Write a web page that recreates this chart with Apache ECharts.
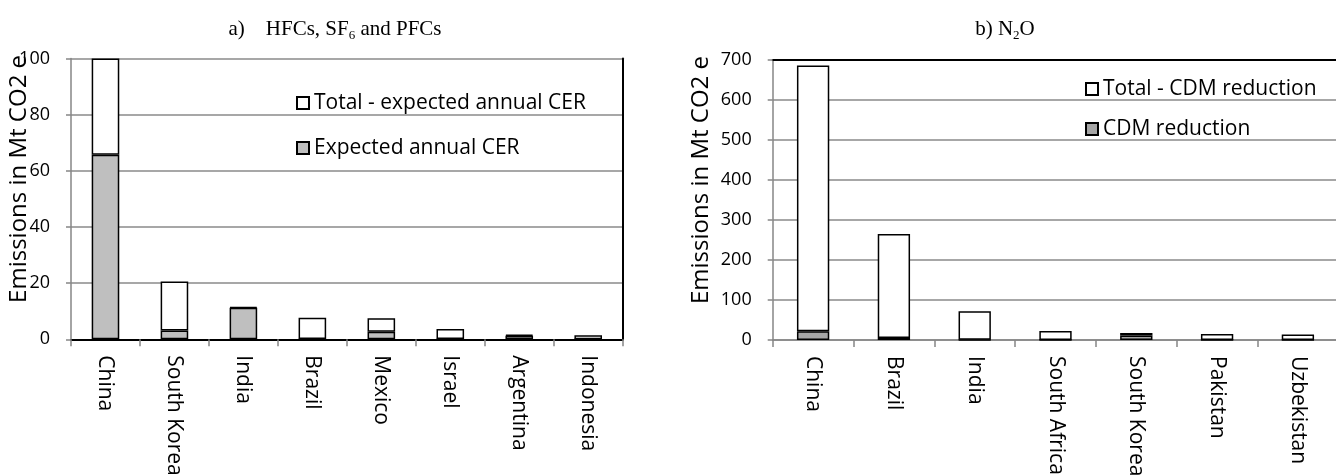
<!DOCTYPE html>
<html>
<head>
<meta charset="utf-8">
<script src="https://cdn.jsdelivr.net/npm/echarts@6/dist/echarts.min.js"></script>
<style>html,body{margin:0;padding:0;background:#fff}#c{width:1336px;height:475px}</style>
</head>
<body>
<div id="c"></div>
<script>
// ---- data ----
const leftCategories = ['China','South Korea','India','Brazil','Mexico','Israel','Argentina','Indonesia'];
const leftExpectedCER = [65.7, 3.1, 11.2, 0.1, 2.7, 0.1, 1.3, 0];
const leftTotalMinusCER = [34.3, 17.5, 0.3, 7.6, 4.8, 3.6, 0.3, 1.4];
const leftTicks = {min: 0, max: 100, interval: 20};

const rightCategories = ['China','Brazil','India','South Africa','South Korea','Pakistan','Uzbekistan'];
const rightCDM = [22, 5, 0.5, 0, 11, 0, 0];
const rightTotalMinusCDM = [664, 260, 71.5, 22.5, 6.5, 15, 13.5];
const rightTicks = {min: 0, max: 700, interval: 100};

const leftNames = ['Total - expected annual CER', 'Expected annual CER'];
const rightNames = ['Total - CDM reduction', 'CDM reduction'];

const FONT = 'Open Sans';
const GRIDC = '#8a8a8a';
const AXC = '#868686';

const chart = echarts.init(document.getElementById('c'), null, {renderer: 'canvas'});

function catAxis(idx, cats) {
  return {
    type: 'category', gridIndex: idx, data: cats,
    axisLine: {show: true, lineStyle: {color: AXC, width: 1.5}},
    axisTick: {show: true, length: 7, lineStyle: {color: AXC, width: 1.5}},
    axisLabel: {rotate: -90, margin: 16, color: '#000', fontFamily: FONT, fontSize: 21, interval: 0}
  };
}
function topAxis(idx, cats) {
  return {
    type: 'category', gridIndex: idx, data: cats, position: 'top',
    axisLine: {show: true, lineStyle: {color: '#000', width: 2}},
    axisTick: {show: false}, axisLabel: {show: false}
  };
}
function valAxis(idx, t, gap) {
  return {
    type: 'value', gridIndex: idx, min: t.min, max: t.max, interval: t.interval,
    name: 'Emissions in Mt CO2 e', nameLocation: 'middle', nameGap: gap, nameMoveOverlap: false,
    nameTextStyle: {fontFamily: FONT, fontSize: 24, color: '#000', padding: [0, 0, 0, 40]},
    axisLine: {show: true, lineStyle: {color: AXC, width: 1.5}},
    axisTick: {show: true, length: 5, lineStyle: {color: AXC, width: 1.5}},
    axisLabel: {margin: 21, color: '#000', fontFamily: FONT, fontSize: 18},
    splitLine: {show: true, lineStyle: {color: GRIDC, width: 1.5}}
  };
}
function rightBorder(idx, t) {
  return {
    type: 'value', gridIndex: idx, min: t.min, max: t.max, interval: t.interval, position: 'right',
    axisLine: {show: true, lineStyle: {color: '#000', width: 2}},
    axisTick: {show: false}, axisLabel: {show: false}, splitLine: {show: false}
  };
}

const barBorder = {borderColor: '#000', borderWidth: 1.5};
const subStyle = {fontFamily: 'Liberation Serif', fontSize: 13, lineHeight: 14, verticalAlign: 'bottom', color: '#000'};

chart.setOption({
  animation: false,
  backgroundColor: '#fff',
  title: [
    {text: 'a)    HFCs, SF{sub|6} and PFCs', left: 330, top: 11, textAlign: 'center',
     textStyle: {fontFamily: 'Liberation Serif', fontSize: 21, fontWeight: 'normal', color: '#000', lineHeight: 26,
       rich: {sub: subStyle}}},
    {text: 'b) N{sub|2}O', left: 1000, top: 11, textAlign: 'center',
     textStyle: {fontFamily: 'Liberation Serif', fontSize: 21, fontWeight: 'normal', color: '#000', lineHeight: 26,
       rich: {sub: subStyle}}}
  ],
  legend: [
    {data: leftNames, orient: 'vertical', left: 296, top: 91, padding: 0, itemWidth: 12, itemHeight: 12, itemGap: 21,
     icon: 'rect', textStyle: {fontFamily: FONT, fontSize: 21, color: '#000', lineHeight: 24}},
    {data: rightNames, orient: 'vertical', left: 1085, top: 77, padding: 0, itemWidth: 12, itemHeight: 12, itemGap: 16,
     icon: 'rect', textStyle: {fontFamily: FONT, fontSize: 21, color: '#000', lineHeight: 24}}
  ],
  grid: [
    {left: 71, top: 58.5, width: 551.7, height: 280.8, outerBoundsMode: 'none', containLabel: false},
    {left: 772.7, top: 60, width: 565.6, height: 280, outerBoundsMode: 'none', containLabel: false}
  ],
  xAxis: [catAxis(0, leftCategories), catAxis(1, rightCategories), topAxis(0, leftCategories), topAxis(1, rightCategories)],
  yAxis: [valAxis(0, leftTicks, 40), valAxis(1, rightTicks, 60), rightBorder(0, leftTicks)],
  series: [
    {name: leftNames[1], type: 'bar', stack: 'a', xAxisIndex: 0, yAxisIndex: 0, barWidth: '40%',
     data: leftExpectedCER, itemStyle: Object.assign({color: '#bfbfbf'}, barBorder)},
    {name: leftNames[0], type: 'bar', stack: 'a', xAxisIndex: 0, yAxisIndex: 0, barWidth: '40%',
     data: leftTotalMinusCER, itemStyle: Object.assign({color: '#ffffff'}, barBorder)},
    {name: rightNames[1], type: 'bar', stack: 'b', xAxisIndex: 1, yAxisIndex: 1, barWidth: '40%',
     data: rightCDM, itemStyle: Object.assign({color: '#a6a6a6'}, barBorder)},
    {name: rightNames[0], type: 'bar', stack: 'b', xAxisIndex: 1, yAxisIndex: 1, barWidth: '40%',
     data: rightTotalMinusCDM, itemStyle: Object.assign({color: '#ffffff'}, barBorder)}
  ]
});
</script>
</body>
</html>
